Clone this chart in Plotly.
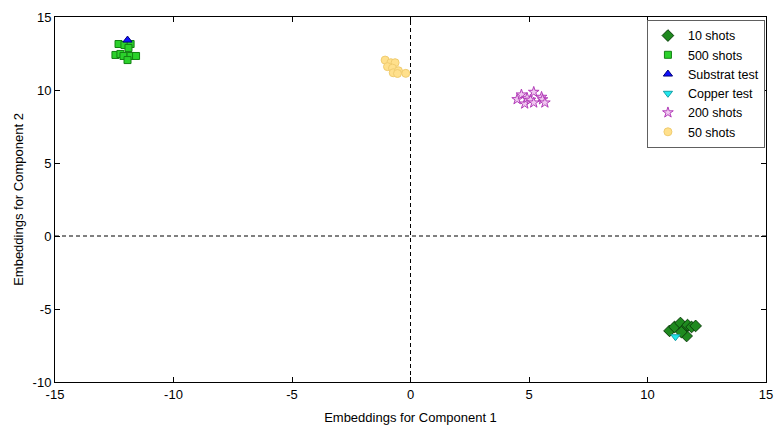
import plotly.graph_objects as go

# 10 shots (diamonds)
s10_x = [10.93, 11.14, 11.39, 11.56, 11.69, 11.86, 12.03, 11.65, 11.43]
s10_y = [-6.50, -6.23, -5.96, -6.37, -6.10, -6.23, -6.16, -6.85, -6.58]
# 500 shots (squares)
s500_x = [-12.32, -12.07, -11.81, -11.90, -12.45, -12.24, -12.11, -11.81, -11.58, -11.94]
s500_y = [13.15, 13.08, 13.15, 12.88, 12.40, 12.47, 12.33, 12.33, 12.33, 12.05]
# Substrat test (triangle up)
sub_x = [-11.94]
sub_y = [13.42]
# Copper test (triangle down)
cu_x = [11.18]
cu_y = [-6.90]
# 200 shots (stars)
s200_x = [4.50, 4.68, 4.82, 4.92, 5.06, 5.20, 5.20, 5.53, 5.57, 5.67]
s200_y = [9.36, 9.68, 9.06, 9.45, 9.32, 9.86, 9.13, 9.52, 9.35, 9.13]
# 50 shots (circles)
s50_x = [-1.07, -0.83, -0.65, -0.97, -0.76, -0.73, -0.51, -0.20, -0.55]
s50_y = [12.05, 11.87, 11.87, 11.60, 11.50, 11.18, 11.32, 11.14, 11.13]

tick_vals_x = [-15, -10, -5, 0, 5, 10, 15]
tick_text_x = ["-15", "-10", "-5", "0", "5", "10", "15"]
tick_vals_y = [-10, -5, 0, 5, 10, 15]
tick_text_y = ["-10", "-5", "0", "5", "10", "15"]

fig = go.Figure()
series = [
    ("10 shots", s10_x, s10_y, "diamond", "#1f8a1f", "#0b3d0b", 9),
    ("500 shots", s500_x, s500_y, "square", "#2bd12b", "#138013", 7),
    ("Substrat test", sub_x, sub_y, "triangle-up", "#1010ff", "#00007a", 8),
    ("Copper test", cu_x, cu_y, "triangle-down", "#22e8ee", "#14a0a8", 8),
    ("200 shots", s200_x, s200_y, "star", "#f0c8f0", "#b23cb8", 8),
    ("50 shots", s50_x, s50_y, "circle", "#ffe08c", "#f0cc70", 8),
]
for name, xs, ys, sym, fill, edge, size in series:
    fig.add_trace(go.Scatter(
        x=xs, y=ys, mode="markers", name=name,
        marker=dict(symbol=sym, color=fill, size=size,
                    line=dict(color=edge, width=1)),
    ))

fig.add_shape(type="line", x0=0, x1=0, y0=-10, y1=15, xref="x", yref="y",
              line=dict(color="black", width=1, dash="4px,3px"), layer="below")
fig.add_shape(type="line", x0=-15, x1=15, y0=0, y1=0, xref="x", yref="y",
              line=dict(color="black", width=1, dash="4px,3px"), layer="below")

axis_common = dict(
    showgrid=False, zeroline=False, showline=True, linecolor="black",
    linewidth=1, mirror="ticks", ticks="inside", ticklen=5, tickcolor="black",
    tickfont=dict(size=13, color="black"), automargin=False,
)
fig.update_layout(
    width=774, height=425,
    margin=dict(l=55, r=8, t=17, b=43),
    paper_bgcolor="white", plot_bgcolor="white",
    font=dict(family="Liberation Sans, Arial, sans-serif", color="black"),
    xaxis=dict(range=[-15, 15], tickvals=tick_vals_x, ticktext=tick_text_x,
               title=dict(text="Embeddings for Component 1", font=dict(size=13), standoff=12),
               **axis_common),
    yaxis=dict(range=[-10, 15], tickvals=tick_vals_y, ticktext=tick_text_y,
               title=dict(text="Embeddings for Component 2", font=dict(size=13), standoff=6),
               **axis_common),
    legend=dict(x=0.9985, y=0.992, xanchor="right", yanchor="top",
                bgcolor="white", bordercolor="#606060", borderwidth=1,
                font=dict(size=12.5), itemwidth=30, tracegroupgap=0),
    showlegend=True,
)
fig.write_html("out.html")
